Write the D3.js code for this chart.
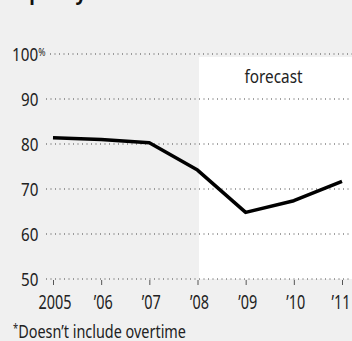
<!DOCTYPE html>
<html lang="en">
<head>
  <meta charset="UTF-8">
  <title>Capacity utilization</title>
  <script src="https://cdn.jsdelivr.net/npm/d3@7"></script>
  <style>
    body { margin: 0; background: #f0f0f0; overflow: hidden; }
    svg { display: block; font-family: "Noto Sans", sans-serif; }
  </style>
</head>
<body>
  <svg id="chart"></svg>
  <script>
    // data
    const years = [2005, 2006, 2007, 2008, 2009, 2010, 2011];
    const utilization = [81.4, 81.0, 80.3, 74.2, 64.8, 67.4, 71.7];
    const yTicks = [50, 60, 70, 80, 90, 100];
    const xLabels = ['2005', '\u201906', '\u201907', '\u201908', '\u201909', '\u201910', '\u201911'];
    const forecastFrom = 2008;

    const width = 352, height = 341;
    const svg = d3.select('#chart').attr('width', width).attr('height', height);

    const x = d3.scaleLinear().domain([2005, 2011]).range([53, 342]);
    const y = d3.scaleLinear().domain([50, 100]).range([279, 54]);

    // title, mostly cut off at the top
    svg.append('text')
      .attr('x', 6).attr('y', 0)
      .style('font-size', '19px').style('font-weight', 'bold')
      .attr('fill', '#111')
      .attr('textLength', 190).attr('lengthAdjust', 'spacingAndGlyphs')
      .text('Capacity utilization*');

    // forecast shading
    svg.append('rect')
      .attr('x', x(forecastFrom) + 1.5)
      .attr('y', y(100) + 3)
      .attr('width', width - x(forecastFrom) - 1.5)
      .attr('height', y(50) - y(100) - 3)
      .attr('fill', '#fff');

    svg.append('text')
      .attr('x', 244.5)
      .attr('y', 83)
      .style('font-size', '18px')
      .attr('fill', '#222')
      .attr('textLength', 58).attr('lengthAdjust', 'spacingAndGlyphs')
      .text('forecast');

    // gridlines
    svg.append('g').selectAll('line')
      .data(yTicks)
      .join('line')
      .attr('x1', d => d === 100 ? 50 : 46)
      .attr('x2', width)
      .attr('y1', d => y(d))
      .attr('y2', d => y(d))
      .attr('stroke', '#444')
      .attr('stroke-width', 1)
      .attr('stroke-dasharray', '1,3.5');

    // y labels
    const yl = svg.append('g').selectAll('text')
      .data(yTicks)
      .join('text')
      .attr('text-anchor', 'end')
      .attr('transform', d => `translate(${d === 100 ? 45.5 : 38.5},${y(d) + 6.5}) scale(0.8,1)`)
      .style('font-size', '19px')
      .attr('fill', '#222')
      .text(d => d);
    yl.filter(d => d === 100)
      .append('tspan')
      .attr('dy', -5)
      .style('font-size', '11px')
      .text('%');

    // x axis
    const xAxis = d3.axisBottom(x)
      .tickValues(years)
      .tickSize(5)
      .tickFormat((d, i) => xLabels[i]);
    const gx = svg.append('g')
      .attr('transform', `translate(0,${y(50) + 1})`)
      .call(xAxis);
    gx.select('.domain').remove();
    gx.selectAll('.tick line').attr('stroke', '#555');
    gx.selectAll('.tick text')
      .attr('y', 0)
      .attr('dy', 0)
      .attr('transform', (d, i) => `translate(${i === years.length - 1 ? -1.5 : 1.5},28.5) scale(0.74,1)`)
      .attr('fill', '#222')
      .style('font-size', '19.5px')
      .style('font-family', '"Noto Sans", sans-serif');

    // line
    const line = d3.line()
      .x((d, i) => x(years[i]))
      .y(d => y(d));
    svg.append('path')
      .datum(utilization)
      .attr('d', line)
      .attr('fill', 'none')
      .attr('stroke', '#000')
      .attr('stroke-width', 3.5)
      .attr('stroke-linejoin', 'round');

    // footnote
    const fn = svg.append('text')
      .attr('x', 13).attr('y', 337.5)
      .style('font-size', '18.5px')
      .attr('fill', '#222')
      .attr('textLength', 173).attr('lengthAdjust', 'spacingAndGlyphs');
    fn.append('tspan').style('font-size', '12px').attr('dy', -5).text('*');
    fn.append('tspan').attr('dy', 5).text('Doesn\u2019t include overtime');
  </script>
</body>
</html>
